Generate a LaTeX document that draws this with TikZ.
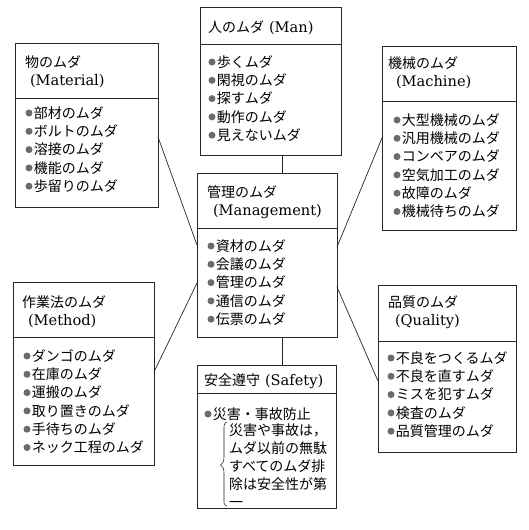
\documentclass[tikz,border=0pt]{standalone}
\usepackage{fontspec}
\setmainfont{DejaVu Serif}
\newfontfamily\jp{Noto Sans CJK JP}
\newcommand\lat[1]{{\fontsize{14.6}{16}\selectfont #1}}
\newcommand\blist[4]{%
  \foreach \t [count=\i from 0] in {#4}{%
    \fill[bulcol] (#2,{#3+18.3*\i}) circle (3.5);
    \node[txt,anchor=base west] (#1\i) at ({#2+4.8},{#3+18.3*\i+5.2}) {\jp\t};
  }}
\begin{document}
\begin{tikzpicture}[x=1pt,y=-1pt,
  box/.style={draw=black!85,line width=0.9pt,inner sep=0pt,outer sep=0pt,anchor=north west},
  txt/.style={inner sep=0pt,outer sep=0pt,font=\fontsize{14}{16}\selectfont},
  link/.style={draw=black!85,line width=0.7pt},
  bulcol/.style={fill=black!58}]
\useasboundingbox[fill=white] (0,0) rectangle (528,530);

% boxes
\node[box,minimum width=143pt,minimum height=164pt] (mat) at (15,43) {};
\node[box,minimum width=141pt,minimum height=148pt] (man) at (200,7) {};
\node[box,minimum width=134pt,minimum height=184pt] (mach) at (382,46) {};
\node[box,minimum width=140pt,minimum height=164pt] (mgmt) at (197,173) {};
\node[box,minimum width=141pt,minimum height=183pt] (meth) at (13,282) {};
\node[box,minimum width=138pt,minimum height=167pt] (qual) at (378,285) {};
\node[box,minimum width=139pt,minimum height=143pt] (safe) at (197,365) {};

% dividers
\draw[link,line width=0.9pt] (mat.west |- 0,98) -- (mat.east |- 0,98);
\draw[link,line width=0.9pt] (man.west |- 0,44) -- (man.east |- 0,44);
\draw[link,line width=0.9pt] (mach.west |- 0,101) -- (mach.east |- 0,101);
\draw[link,line width=0.9pt] (mgmt.west |- 0,228) -- (mgmt.east |- 0,228);
\draw[link,line width=0.9pt] (meth.west |- 0,337) -- (meth.east |- 0,337);
\draw[link,line width=0.9pt] (qual.west |- 0,341) -- (qual.east |- 0,341);
\draw[link,line width=0.9pt] (safe.west |- 0,393) -- (safe.east |- 0,393);

% headers
\node[txt,anchor=base west] (matH1) at (25,67) {\jp 物のムダ};
\node[txt,anchor=base west] (matH2) at (30,85) {\lat{(Material)}};
\node[txt,anchor=base west] (manH) at (208,32) {{\jp 人のムダ}\hspace{5pt}\lat{(Man)}};
\node[txt,anchor=base west] (machH1) at (388,68) {\jp 機械のムダ};
\node[txt,anchor=base west] (machH2) at (396,86) {\lat{(Machine)}};
\node[txt,anchor=base west] (mgmtH1) at (207,197) {\jp 管理のムダ};
\node[txt,anchor=base west] (mgmtH2) at (213,215) {\lat{(Management)}};
\node[txt,anchor=base west] (methH1) at (22,307) {\jp 作業法のムダ};
\node[txt,anchor=base west] (methH2) at (28,325) {\lat{(Method)}};
\node[txt,anchor=base west] (qualH1) at (388,307) {\jp 品質のムダ};
\node[txt,anchor=base west] (qualH2) at (395,325) {\lat{(Quality)}};
\node[txt,anchor=base west] (safeH) at (204,385) {{\jp 安全遵守}\hspace{5pt}\lat{(Safety)}};

% bullet lists
\blist{matB}{29}{113}{部材のムダ,ボルトのムダ,溶接のムダ,機能のムダ,歩留りのムダ}
\blist{manB}{212}{62}{歩くムダ,閑視のムダ,探すムダ,動作のムダ,見えないムダ}
\blist{machB}{397}{120}{大型機械のムダ,汎用機械のムダ,コンベアのムダ,空気加工のムダ,故障のムダ,機械待ちのムダ}
\blist{mgmtB}{211}{246}{資材のムダ,会議のムダ,管理のムダ,通信のムダ,伝票のムダ}
\blist{methB}{27}{356}{ダンゴのムダ,在庫のムダ,運搬のムダ,取り置きのムダ,手待ちのムダ,ネック工程のムダ}
\blist{qualB}{391}{358}{不良をつくるムダ,不良を直すムダ,ミスを犯すムダ,検査のムダ,品質管理のムダ}
\blist{safeB}{208}{414}{災害・事故防止}

% safety note
\foreach \t [count=\i from 0] in {災害や事故は，,ムダ以前の無駄,すべてのムダ排,除は安全性が第,一}{%
  \node[txt,anchor=base west] (safeL\i) at (229,{435+18*\i}) {\jp\t};
}
\draw[link,line width=0.6pt] (227,422) .. controls (223.5,423) and (224,426) .. (224,432)
  -- (224,457) .. controls (224,462) and (222.5,464) .. (220.5,465)
  .. controls (222.5,466) and (224,468) .. (224,473)
  -- (224,498) .. controls (224,503) and (223.5,505) .. (227,506);

% connectors
\draw[link] (man.south -| 282,0) -- (mgmt.north -| 282,0);
\draw[link] (safe.north -| 282,0) -- (mgmt.south -| 282,0);
\draw[link] (mat.east |- 0,137) -- (mgmt.west |- 0,245);
\draw[link] (meth.east |- 0,372) -- (mgmt.west |- 0,283);
\draw[link] (mach.west |- 0,138) -- (mgmt.east |- 0,247);
\draw[link] (qual.west |- 0,381) -- (mgmt.east |- 0,287);
\end{tikzpicture}
\end{document}
